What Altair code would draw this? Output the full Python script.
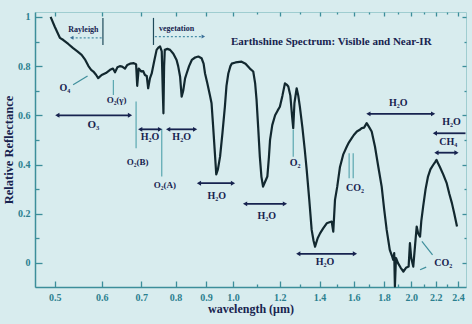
import altair as alt
import pandas as pd

# ---- spectrum (wavelength in micron, relative reflectance) ----
wavelength = [0.492, 0.500, 0.510, 0.517, 0.527, 0.537, 0.546, 0.555, 0.563, 0.570,
              0.576, 0.581, 0.587, 0.592, 0.600, 0.610, 0.620, 0.627, 0.632, 0.638,
              0.644, 0.650, 0.657, 0.663, 0.670, 0.680, 0.686, 0.689, 0.693, 0.700,
              0.705, 0.710, 0.715, 0.719, 0.724, 0.729, 0.736, 0.743, 0.748, 0.753,
              0.758, 0.761, 0.763, 0.765, 0.767, 0.775, 0.783, 0.793, 0.803, 0.808,
              0.814, 0.819, 0.824, 0.830, 0.835, 0.843, 0.852, 0.863, 0.874, 0.885,
              0.892, 0.897, 0.905, 0.914, 0.920, 0.926, 0.932, 0.937, 0.943, 0.951,
              0.960, 0.969, 0.975, 0.982, 0.990, 0.995, 1.010, 1.034, 1.050, 1.068,
              1.082, 1.090, 1.096, 1.103, 1.110, 1.117, 1.124, 1.133, 1.143, 1.150,
              1.155, 1.165, 1.178, 1.190, 1.200, 1.212, 1.224, 1.232, 1.240, 1.250,
              1.258, 1.264, 1.270, 1.281, 1.289, 1.297, 1.310, 1.322, 1.332, 1.345,
              1.358, 1.368, 1.376, 1.390, 1.403, 1.420, 1.440, 1.455, 1.468, 1.477,
              1.487, 1.500, 1.516, 1.535, 1.557, 1.570, 1.587, 1.600, 1.619, 1.635,
              1.650, 1.665, 1.682, 1.700, 1.715, 1.737, 1.760, 1.783, 1.800, 1.818,
              1.830, 1.840, 1.855, 1.865, 1.872, 1.877, 1.885, 1.900, 1.920, 1.940,
              1.960, 1.980, 1.990, 2.000, 2.016, 2.030, 2.043, 2.055, 2.070, 2.080,
              2.095, 2.115, 2.135, 2.155, 2.178, 2.195, 2.207, 2.220, 2.236, 2.265,
              2.296, 2.320, 2.343, 2.365, 2.390]
reflectance = [1.00, 0.96, 0.915, 0.906, 0.89, 0.873, 0.86, 0.846, 0.825, 0.80,
               0.785, 0.778, 0.765, 0.751, 0.764, 0.772, 0.785, 0.790, 0.775, 0.795,
               0.80, 0.798, 0.79, 0.805, 0.81, 0.812, 0.808, 0.72, 0.79, 0.778,
               0.78, 0.764, 0.76, 0.71, 0.75, 0.77, 0.82, 0.866, 0.875, 0.88,
               0.86, 0.70, 0.608, 0.80, 0.866, 0.87, 0.866, 0.85, 0.825, 0.80,
               0.758, 0.676, 0.70, 0.75, 0.77, 0.80, 0.825, 0.835, 0.839, 0.832,
               0.81, 0.77, 0.73, 0.683, 0.649, 0.55, 0.446, 0.36, 0.38, 0.432,
               0.53, 0.635, 0.72, 0.77, 0.80, 0.81, 0.815, 0.818, 0.81, 0.79,
               0.778, 0.73, 0.663, 0.55, 0.432, 0.35, 0.31, 0.33, 0.351, 0.43,
               0.50, 0.56, 0.60, 0.62, 0.635, 0.68, 0.73, 0.725, 0.717, 0.68,
               0.60, 0.548, 0.65, 0.71, 0.68, 0.635, 0.55, 0.46, 0.378, 0.26,
               0.134, 0.09, 0.066, 0.10, 0.12, 0.14, 0.161, 0.165, 0.168, 0.127,
               0.256, 0.31, 0.39, 0.44, 0.473, 0.49, 0.507, 0.52, 0.534, 0.54,
               0.548, 0.55, 0.568, 0.55, 0.534, 0.473, 0.39, 0.31, 0.22, 0.134,
               0.09, 0.053, 0.03, 0.012, 0.04, -0.096, 0.02, -0.001, -0.02, -0.035,
               -0.02, -0.015, 0.08, 0.02, -0.015, 0.07, 0.148, 0.12, 0.107, 0.17,
               0.229, 0.30, 0.351, 0.38, 0.398, 0.41, 0.419, 0.405, 0.39, 0.36,
               0.324, 0.28, 0.243, 0.20, 0.148]

# ---- annotation labels ----
label_text = ["Rayleigh", "vegetation", "O\u2084", "O\u2082(\u03b3)", "O\u2083", "O\u2082(B)",
              "H\u2082O", "H\u2082O", "O\u2082(A)", "H\u2082O", "H\u2082O", "O\u2082",
              "H\u2082O", "CO\u2082", "H\u2082O", "H\u2082O", "CH\u2084", "CO\u2082"]
label_x = [0.559, 0.803, 0.520, 0.636, 0.581, 0.690, 0.724, 0.819, 0.767, 0.939,
           1.140, 1.273, 1.430, 1.607, 1.902, 2.340, 2.311, 2.266]
label_y = [0.947, 0.951, 0.711, 0.663, 0.561, 0.412, 0.513, 0.513, 0.317, 0.270,
           0.192, 0.408, 0.005, 0.303, 0.649, 0.574, 0.493, -0.001]
label_size = [8, 8, 10, 9, 11, 9, 10, 10, 9, 10, 10, 10, 10, 10, 10, 10, 10, 10]

title_text = ["Earthshine Spectrum: Visible and Near-IR"]
title_x = [0.992]
title_y = [0.898]

# ---- solid band arrows ----
arrow_x1 = [0.505, 0.697, 0.777, 0.876, 1.048, 1.289, 1.693, 2.206, 2.193]
arrow_x2 = [0.670, 0.753, 0.863, 1.000, 1.224, 1.607, 2.178, 2.385, 2.470]
arrow_y = [0.600, 0.543, 0.543, 0.324, 0.240, 0.037, 0.606, 0.448, 0.527]
arrow_right_head = [True, True, True, True, True, True, True, True, False]

# ---- dotted region arrows (Rayleigh, vegetation) ----
dot_x1 = [0.534, 0.738]
dot_x2 = [0.600, 0.891]
dot_y = [0.915, 0.920]
dot_head_x = [0.534, 0.891]
dot_head_shape = ["triangle-left", "triangle-right"]

# ---- vertical marker lines ----
vline_x = [0.603, 0.734, 0.628, 0.686, 0.758, 1.264, 1.571, 1.596]
vline_y1 = [0.996, 0.996, 0.744, 0.656, 0.545, 0.541, 0.446, 0.446]
vline_y2 = [0.886, 0.886, 0.683, 0.466, 0.351, 0.432, 0.344, 0.344]
vline_dark = [True, True, False, False, False, False, False, False]

# ---- leader lines ----
lead_x1 = [0.537, 2.085, 2.070]
lead_x2 = [0.568, 2.173, 2.120]
lead_y1 = [0.724, 0.087, -0.028]
lead_y2 = [0.760, 0.033, -0.017]

# ---- axis ticks ----
x_major = [0.5, 0.6, 0.7, 0.8, 0.9, 1.0, 1.2, 1.4, 1.6, 1.8, 2.0, 2.2, 2.4]
x_minor = [1.1, 1.3, 1.5, 1.7, 1.9, 2.1, 2.3]
y_major = [0, 0.2, 0.4, 0.6, 0.8, 1.0]
y_minor = [0.1, 0.3, 0.5, 0.7, 0.9]

W, H = 431, 275
FONT = "Liberation Serif"
NAVY = "#17234f"
TEAL = "#2b7f8f"
LINE = "#12282f"
BG = "#d8ecee"

xs = alt.Scale(type="log", domain=[0.463, 2.475], nice=False)
ys = alt.Scale(domain=[-0.098, 1.02], nice=False, zero=False)

spec = pd.DataFrame({"w": wavelength, "r": reflectance})
labels = pd.DataFrame({"t": label_text, "x": label_x, "y": label_y, "s": label_size})
titles = pd.DataFrame({"t": title_text, "x": title_x, "y": title_y})
arrows = pd.DataFrame({"x1": arrow_x1, "x2": arrow_x2, "y": arrow_y})
heads = pd.DataFrame(
    [{"x": a, "y": y, "s": "triangle-left"} for a, y in zip(arrow_x1, arrow_y)]
    + [{"x": b, "y": y, "s": "triangle-right"}
       for b, y, h in zip(arrow_x2, arrow_y, arrow_right_head) if h]
)
dots = pd.DataFrame({"x1": dot_x1, "x2": dot_x2, "y": dot_y})
dot_heads = pd.DataFrame({"x": dot_head_x, "y": dot_y, "s": dot_head_shape})
vlines = pd.DataFrame({"x": vline_x, "y1": vline_y1, "y2": vline_y2, "dark": vline_dark})
leads = pd.DataFrame({"x1": lead_x1, "x2": lead_x2, "y1": lead_y1, "y2": lead_y2})
dummy = pd.DataFrame({"x": [1.0], "y": [0.5]})

line = alt.Chart(spec).mark_line(color=LINE, strokeWidth=2.2, strokeJoin="round").encode(
    x=alt.X("w:Q", scale=xs, title="wavelength (\u03bcm)",
            axis=alt.Axis(values=x_major, format=".1f", tickSize=0, labelPadding=5,
                          grid=False, domainColor="#3c8e9a", domainWidth=1.5,
                          labelColor=TEAL, labelFont=FONT, labelFontWeight="bold",
                          labelFontSize=10, titleFont=FONT, titleFontSize=12,
                          titleFontWeight="bold", titleColor=NAVY, titlePadding=1)),
    y=alt.Y("r:Q", scale=ys, title="Relative Reflectance",
            axis=alt.Axis(values=y_major, format="~g", tickSize=0, labelPadding=5,
                          grid=False, domainColor="#3c8e9a", domainWidth=1.5,
                          labelColor=TEAL, labelFont=FONT, labelFontWeight="bold",
                          labelFontSize=10, titleFont=FONT, titleFontSize=12.5,
                          titleFontWeight="bold", titleColor=NAVY, titlePadding=2)),
)

arrow_rules = alt.Chart(arrows).mark_rule(color=NAVY, strokeWidth=1.8).encode(
    x=alt.X("x1:Q", scale=xs, axis=None), x2="x2:Q",
    y=alt.Y("y:Q", scale=ys, axis=None),
)
arrow_heads = alt.Chart(heads).mark_point(filled=True, color=NAVY, size=24, opacity=1).encode(
    x=alt.X("x:Q", scale=xs, axis=None), y=alt.Y("y:Q", scale=ys, axis=None),
    shape=alt.Shape("s:N", scale=None),
)
dot_rules = alt.Chart(dots).mark_rule(color="#4a8fa8", strokeWidth=1.2, strokeDash=[2, 2]).encode(
    x=alt.X("x1:Q", scale=xs, axis=None), x2="x2:Q",
    y=alt.Y("y:Q", scale=ys, axis=None),
)
dot_head_marks = alt.Chart(dot_heads).mark_point(filled=True, color="#3a6f98", size=16, opacity=1).encode(
    x=alt.X("x:Q", scale=xs, axis=None), y=alt.Y("y:Q", scale=ys, axis=None),
    shape=alt.Shape("s:N", scale=None),
)
v_rules = alt.Chart(vlines).mark_rule(strokeWidth=1.2).encode(
    x=alt.X("x:Q", scale=xs, axis=None),
    y=alt.Y("y1:Q", scale=ys, axis=None), y2="y2:Q",
    color=alt.condition("datum.dark", alt.value("#1f4a5a"), alt.value("#5aa7b0")),
)
lead_rules = alt.Chart(leads).mark_rule(color="#3f8f9c", strokeWidth=1.2).encode(
    x=alt.X("x1:Q", scale=xs, axis=None), x2="x2:Q",
    y=alt.Y("y1:Q", scale=ys, axis=None), y2="y2:Q",
)
label_marks = alt.Chart(labels).mark_text(
    font=FONT, fontWeight="bold", color=NAVY, align="center", baseline="middle"
).encode(
    x=alt.X("x:Q", scale=xs, axis=None), y=alt.Y("y:Q", scale=ys, axis=None), text="t:N",
    size=alt.Size("s:Q", scale=None, legend=None),
)
title_mark = alt.Chart(titles).mark_text(
    font=FONT, fontWeight="bold", fontSize=11, color=NAVY, align="left", baseline="middle"
).encode(
    x=alt.X("x:Q", scale=xs, axis=None), y=alt.Y("y:Q", scale=ys, axis=None), text="t:N",
)

x_major_test = "datum.value < 1.05 || abs(datum.value*5 - round(datum.value*5)) < 0.1"
y_major_test = "abs(datum.value*5 - round(datum.value*5)) < 0.01"


def tick_axis_x(orient, offset, big, small):
    return alt.Axis(orient=orient, offset=offset, values=x_major + x_minor, labels=False,
                    domain=False, grid=False, title=None, tickColor="#3c8e9a", tickWidth=1.3,
                    tickSize={"condition": {"test": x_major_test, "value": big}, "value": small})


def tick_axis_y(orient, offset, big, small):
    return alt.Axis(orient=orient, offset=offset, values=y_major + y_minor, labels=False,
                    domain=False, grid=False, title=None, tickColor="#3c8e9a", tickWidth=1.3,
                    tickSize={"condition": {"test": y_major_test, "value": big}, "value": small})


tick_bottom = alt.Chart(dummy).mark_point(opacity=0).encode(
    x=alt.X("x:Q", scale=xs, axis=tick_axis_x("top", -H, 6, 3)),
    y=alt.Y("y:Q", scale=ys, axis=None),
)
tick_top = alt.Chart(dummy).mark_point(opacity=0).encode(
    x=alt.X("x:Q", scale=xs, axis=tick_axis_x("bottom", -H, 4, 2)),
    y=alt.Y("y:Q", scale=ys, axis=None),
)
tick_left = alt.Chart(dummy).mark_point(opacity=0).encode(
    x=alt.X("x:Q", scale=xs, axis=None),
    y=alt.Y("y:Q", scale=ys, axis=tick_axis_y("right", -W, 7, 4)),
)
tick_right = alt.Chart(dummy).mark_point(opacity=0).encode(
    x=alt.X("x:Q", scale=xs, axis=None),
    y=alt.Y("y:Q", scale=ys, axis=tick_axis_y("left", -W, 4, 2)),
)

chart = alt.layer(
    line, tick_bottom, tick_top, tick_left, tick_right,
    v_rules, lead_rules, dot_rules, dot_head_marks, arrow_rules, arrow_heads,
    label_marks, title_mark,
).resolve_axis(x="independent", y="independent").properties(
    width=W, height=H,
    autosize=alt.AutoSizeParams(type="none"),
    padding={"left": 35, "top": 12, "right": 6, "bottom": 37},
    background=BG,
).configure_view(
    fill=BG, stroke="#9fcdd0", strokeWidth=1,
)

chart.save("out.html", embed_options={"renderer": "svg", "actions": False})
